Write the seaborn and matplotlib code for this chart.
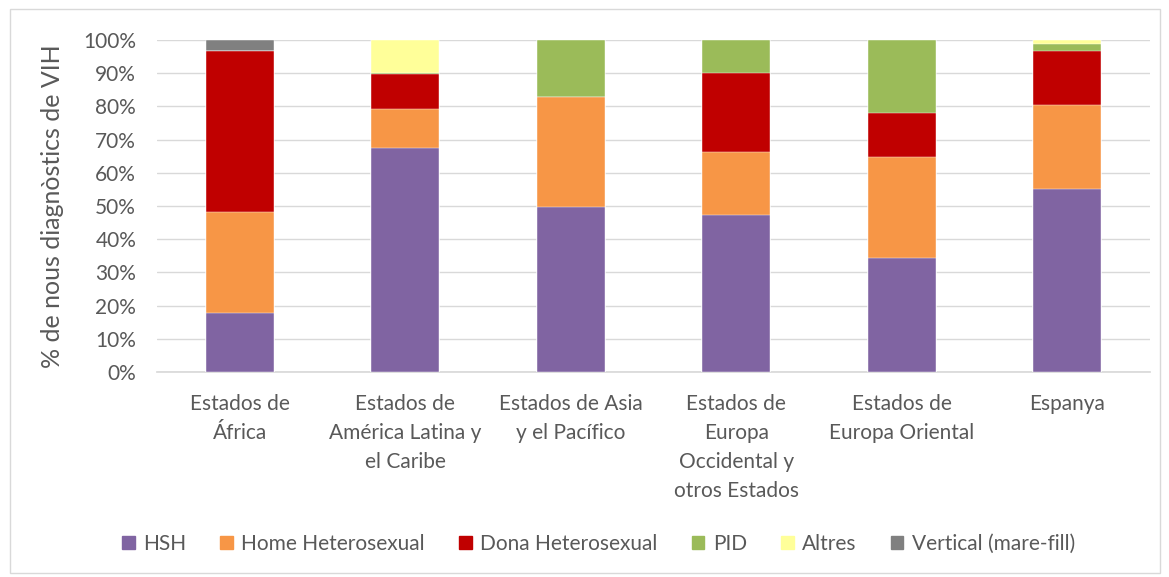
import numpy as np
import pandas as pd
import matplotlib
matplotlib.use("Agg")
import matplotlib.pyplot as plt
import seaborn as sns
from matplotlib.patches import Rectangle
from matplotlib.ticker import PercentFormatter

# --- data (percent of new HIV diagnoses by group) ---
regions = ['Estados de\nÁfrica', 'Estados de\nAmérica Latina y\nel Caribe',
           'Estados de Asia\ny el Pacífico', 'Estados de\nEuropa\nOccidental y\notros Estados',
           'Estados de\nEuropa Oriental', 'Espanya']
hsh = [17.9, 67.6, 49.7, 47.3, 34.4, 55.1]
home_het = [30.2, 11.7, 33.2, 19.0, 30.5, 25.3]
dona_het = [48.6, 10.4, 0.0, 23.9, 13.0, 16.3]
pid = [0.0, 0.5, 17.1, 9.8, 22.1, 2.0]
altres = [0.0, 9.8, 0.0, 0.0, 0.0, 1.3]
vertical = [3.3, 0.0, 0.0, 0.0, 0.0, 0.0]

groups = ['HSH', 'Home Heterosexual', 'Dona Heterosexual', 'PID', 'Altres', 'Vertical (mare-fill)']
colors = ['#8064A2', '#F79646', '#C00000', '#9BBB59', '#FFFF99', '#808080']

df = pd.DataFrame({'Regio': regions, 'HSH': hsh, 'Home Heterosexual': home_het,
                   'Dona Heterosexual': dona_het, 'PID': pid, 'Altres': altres,
                   'Vertical (mare-fill)': vertical})
cum = df[groups].cumsum(axis=1)
cum['Regio'] = df['Regio']

sns.set_theme(style="white")
plt.rcParams['font.family'] = ['Lato', 'DejaVu Sans']

fig = plt.figure(figsize=(11.69, 5.77), dpi=100)
ax = fig.add_axes([157 / 1169, 1 - 372 / 577, (1150 - 157) / 1169, (372 - 40) / 577])

# draw cumulative totals from the top group down so each layer shows as a segment
for g, c in reversed(list(zip(groups, colors))):
    sns.barplot(data=cum, x='Regio', y=g, color=c, width=0.41, ax=ax,
                saturation=1, edgecolor='white', linewidth=0.3, zorder=3)

ax.set_ylim(0, 100)
ax.set_xlim(-0.5, len(regions) - 0.5)
ax.set_yticks(np.arange(0, 101, 10))
ax.yaxis.set_major_formatter(PercentFormatter(decimals=0))
ax.grid(axis='y', color='#D9D9D9', linewidth=1, zorder=0)
ax.set_axisbelow(True)
for s in ['top', 'right', 'left']:
    ax.spines[s].set_visible(False)
ax.spines['bottom'].set_color('#D9D9D9')
ax.tick_params(axis='y', length=0, labelsize=15, colors='#595959', pad=15)
ax.tick_params(axis='x', length=0, labelsize=15, colors='#595959', pad=16)
ax.set_xlabel('')
ax.set_ylabel('% de nous diagnòstics de VIH', fontsize=18, color='#595959', labelpad=14)
for lbl in ax.get_xticklabels():
    lbl.set_verticalalignment('top')
    lbl.set_linespacing(1.55)

handles = [Rectangle((0, 0), 1, 1, color=c) for c in colors]
fig.legend(handles, groups, loc='center', bbox_to_anchor=(0.512, 1 - 544 / 577), ncol=6,
           frameon=False, fontsize=15, handlelength=0.6, handleheight=0.6,
           handletextpad=0.4, columnspacing=1.65, labelcolor='#595959')

# chart border
fig.patches.append(Rectangle((10 / 1169, 4 / 577), 1150 / 1169, 564 / 577,
                             transform=fig.transFigure, fill=False,
                             edgecolor='#D9D9D9', linewidth=1))

fig.savefig('out.png', dpi=100)
